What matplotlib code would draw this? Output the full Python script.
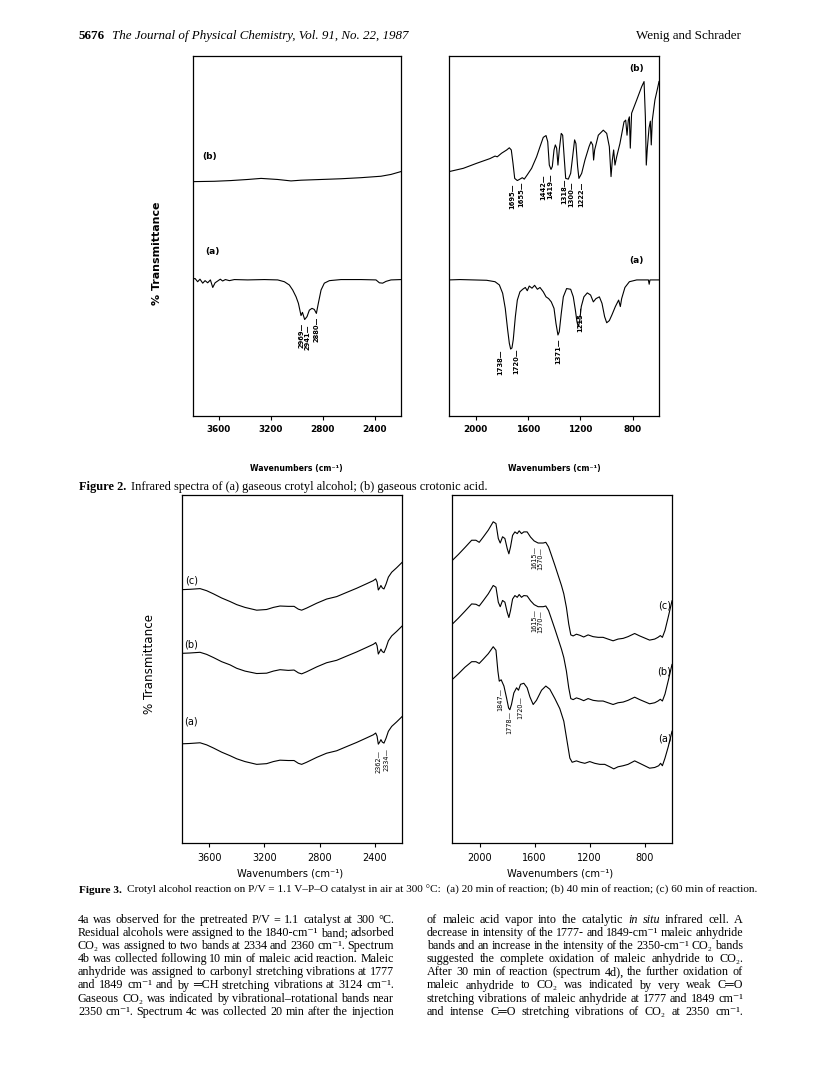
import matplotlib
matplotlib.use('Agg')
import matplotlib.pyplot as plt

# ---------------- data ----------------
# Figure 2, left panel (3800-2200 cm-1)
f2_hi_wn = [3800, 3782, 3762, 3744, 3723, 3705, 3685, 3664, 3646, 3628,
            3608, 3588, 3570, 3549, 3518, 3480, 3378, 3250, 3147, 3096,
            3058, 3032, 3006, 2988, 2968, 2957, 2940, 2922, 2904, 2884,
            2866, 2850, 2835, 2814, 2789, 2750, 2661, 2507, 2392, 2366,
            2341, 2315, 2277, 2200]
f2_hi_a = [38.0, 38.2, 37.3, 38.0, 36.9, 37.6, 37.0, 37.8, 35.7, 37.0,
           37.5, 38.0, 37.5, 37.9, 37.6, 37.9, 37.8, 37.9, 37.8, 37.3,
           36.4, 35.0, 33.1, 31.3, 27.9, 28.8, 26.8, 27.6, 29.4, 29.9,
           29.6, 28.5, 31.3, 35.0, 36.9, 37.6, 37.9, 37.9, 37.8, 37.0,
           36.9, 37.4, 37.8, 37.9]
f2_hi_b_wn = [3800, 3634, 3506, 3378, 3275, 3147, 3045, 2968, 2814, 2661,
              2507, 2354, 2277, 2200]
f2_hi_b = [65.1, 65.2, 65.4, 65.7, 66.0, 65.7, 65.3, 65.5, 65.7, 65.9,
           66.2, 66.6, 67.1, 67.9]

# Figure 2, right panel (2200-600 cm-1)
f2_lo_b_wn = [2200, 2093, 1991, 1890, 1851, 1834, 1801, 1762, 1742, 1727,
              1714, 1701, 1681, 1661, 1643, 1628, 1605, 1572, 1534, 1508,
              1483, 1462, 1449, 1437, 1424, 1414, 1401, 1391, 1381, 1371,
              1361, 1346, 1335, 1322, 1312, 1292, 1274, 1259, 1244, 1234,
              1221, 1211, 1190, 1165, 1134, 1119, 1106, 1099, 1091, 1063,
              1025, 999, 979, 966, 956, 946, 936, 923, 898, 867,
              854, 844, 834, 826, 819, 809, 770, 732, 714, 704,
              697, 689, 676, 666, 659, 651, 631, 613, 600]
f2_lo_b = [67.9, 68.8, 70.2, 71.5, 72.2, 72.0, 73.0, 73.9, 74.5, 73.9,
           70.2, 66.0, 65.4, 65.8, 66.2, 65.8, 67.0, 68.8, 72.0, 74.8,
           77.4, 77.9, 76.2, 69.7, 68.5, 69.3, 73.9, 75.3, 74.4, 69.7,
           73.9, 78.5, 78.0, 71.1, 66.0, 65.8, 67.4, 72.0, 76.7, 75.7,
           69.3, 66.0, 67.4, 71.1, 74.8, 76.2, 75.3, 71.1, 73.9, 78.0,
           79.4, 78.5, 74.8, 66.5, 71.1, 73.9, 69.7, 72.0, 75.7, 81.7,
           82.2, 78.0, 82.2, 83.1, 74.4, 84.1, 87.8, 91.5, 92.9, 83.1,
           69.7, 74.4, 80.0, 81.9, 75.3, 82.2, 87.8, 90.7, 92.9]
f2_lo_a_wn = [2200, 2119, 2017, 1915, 1851, 1818, 1793, 1773, 1755, 1742,
              1732, 1722, 1712, 1696, 1681, 1661, 1640, 1620, 1605, 1590,
              1569, 1549, 1528, 1508, 1483, 1462, 1442, 1422, 1401, 1386,
              1371, 1361, 1346, 1330, 1305, 1274, 1254, 1238, 1226, 1216,
              1206, 1193, 1173, 1147, 1122, 1101, 1081, 1055, 1035, 1015,
              999, 979, 959, 933, 908, 895, 885, 860, 826, 770,
              681, 675, 669, 663, 600]
f2_lo_a = [37.8, 37.9, 37.8, 37.7, 37.3, 36.4, 34.1, 29.9, 24.0, 20.2,
           18.6, 18.9, 21.2, 27.6, 32.2, 34.5, 35.2, 35.7, 34.8, 36.1,
           35.5, 36.3, 35.2, 35.7, 34.5, 33.1, 32.6, 31.7, 29.9, 25.7,
           22.5, 23.4, 28.4, 33.1, 35.4, 35.2, 33.1, 29.4, 26.2, 24.8,
           26.2, 30.4, 33.1, 34.2, 33.6, 31.7, 32.6, 33.1, 31.3, 27.6,
           25.9, 26.5, 28.1, 30.4, 32.2, 30.4, 32.6, 35.7, 37.3, 37.8,
           37.8, 36.6, 37.8, 37.8, 37.8]

# Figure 3, left panel (3800-2200 cm-1)
f3_hi_wn = [3800, 3740, 3667, 3619, 3570, 3510, 3450, 3401, 3341, 3256,
            3184, 3135, 3087, 3027, 2985, 2954, 2930, 2894, 2821, 2749,
            2676, 2604, 2531, 2459, 2410, 2393, 2383, 2374, 2364, 2355,
            2345, 2333, 2318, 2301, 2277, 2241, 2200]
f3_hi_c = [72.8, 72.9, 73.1, 72.5, 71.6, 70.4, 69.4, 68.5, 67.7, 66.9,
           67.1, 67.7, 68.1, 68.0, 68.0, 67.2, 66.9, 67.5, 68.9, 70.1,
           70.8, 72.0, 73.2, 74.5, 75.4, 75.9, 75.0, 72.7, 73.3, 74.0,
           73.3, 73.0, 74.4, 76.4, 77.8, 79.1, 80.7]
f3_hi_b = [54.5, 54.6, 54.8, 54.2, 53.3, 52.1, 51.2, 50.2, 49.4, 48.7,
           48.8, 49.4, 49.8, 49.6, 49.7, 48.9, 48.6, 49.2, 50.6, 51.8,
           52.5, 53.7, 54.9, 56.2, 57.1, 57.6, 56.7, 54.3, 55.0, 55.7,
           55.0, 54.7, 56.1, 58.1, 59.5, 60.8, 62.4]
f3_hi_a = [28.5, 28.6, 28.8, 28.2, 27.3, 26.1, 25.1, 24.2, 23.4, 22.6,
           22.8, 23.4, 23.8, 23.7, 23.7, 22.9, 22.6, 23.2, 24.6, 25.8,
           26.5, 27.7, 28.9, 30.2, 31.1, 31.6, 30.7, 28.4, 29.0, 29.7,
           29.0, 28.7, 30.1, 32.1, 33.5, 34.8, 36.4]

# Figure 3, right panel (2200-600 cm-1)
f3_lo_wn = [2200, 2156, 2108, 2059, 2028, 2004, 1975, 1938, 1902, 1882,
            1865, 1851, 1834, 1817, 1800, 1788, 1776, 1761, 1744, 1727,
            1713, 1696, 1679, 1655, 1630, 1604, 1575, 1538, 1519, 1499,
            1478, 1453, 1429, 1405, 1388, 1369, 1352, 1337, 1320, 1296,
            1272, 1243, 1211, 1175, 1138, 1102, 1066, 1029, 993, 956,
            920, 872, 835, 799, 763, 726, 702, 685, 670, 651,
            627, 600]
f3_lo_c = [81.2, 82.9, 84.9, 87.0, 87.0, 86.4, 87.9, 89.9, 92.3, 91.8,
           87.5, 86.2, 88.0, 87.5, 84.6, 83.1, 85.1, 88.4, 89.4, 88.9,
           89.7, 88.9, 89.4, 89.4, 87.9, 86.8, 86.2, 86.2, 86.4, 85.1,
           82.7, 79.8, 76.9, 74.0, 71.6, 67.7, 62.9, 59.8, 59.5, 60.0,
           59.7, 59.2, 59.8, 59.3, 59.1, 59.1, 58.6, 58.1, 58.6, 58.8,
           59.3, 60.2, 59.5, 58.9, 58.3, 58.6, 59.1, 59.6, 59.1, 61.1,
           65.0, 69.6]
f3_lo_b = [62.9, 64.6, 66.6, 68.7, 68.6, 68.1, 69.6, 71.6, 74.0, 73.5,
           69.2, 67.9, 69.7, 69.2, 66.3, 64.8, 66.8, 70.1, 71.1, 70.6,
           71.4, 70.6, 71.1, 71.0, 69.6, 68.5, 67.9, 67.9, 68.1, 66.8,
           64.4, 61.5, 58.6, 55.7, 53.3, 49.4, 44.6, 41.5, 41.2, 41.7,
           41.4, 40.9, 41.5, 41.0, 40.8, 40.8, 40.3, 39.8, 40.3, 40.5,
           41.0, 41.9, 41.2, 40.6, 40.0, 40.3, 40.8, 41.3, 40.8, 42.8,
           46.7, 51.3]
f3_lo_a_wn = [2200, 2156, 2108, 2059, 2028, 2004, 1975, 1938, 1902, 1882,
              1868, 1858, 1844, 1824, 1805, 1790, 1781, 1769, 1752, 1732,
              1718, 1703, 1679, 1655, 1635, 1611, 1587, 1550, 1519, 1490,
              1453, 1417, 1388, 1364, 1344, 1327, 1296, 1267, 1235, 1199,
              1163, 1126, 1090, 1053, 1024, 993, 956, 920, 872, 835,
              799, 763, 726, 697, 683, 670, 651, 627, 600]
f3_lo_a = [47.0, 48.6, 50.5, 52.1, 52.1, 51.6, 52.8, 54.4, 56.4, 55.4,
           49.4, 46.5, 46.9, 45.1, 41.7, 38.8, 38.3, 39.8, 43.1, 44.6,
           43.9, 45.6, 45.9, 44.6, 42.0, 39.8, 41.0, 43.9, 45.1, 44.2,
           41.5, 38.6, 35.0, 29.2, 24.4, 23.2, 23.6, 23.2, 22.9, 23.4,
           22.9, 22.6, 22.6, 21.9, 21.3, 21.9, 22.2, 22.6, 23.6, 22.9,
           22.2, 21.5, 21.7, 22.2, 22.9, 22.2, 24.4, 27.7, 32.1]

hi_ticks = [3600, 3200, 2800, 2400]
lo_ticks = [2000, 1600, 1200, 800]

# peak annotations: (label, x, top of label)
f2_hi_peaks = [('2969', 2963, 26.0), ('2941', 2916, 25.5), ('2880', 2846, 27.5)]
f2_lo_b_peaks = [('1695', 1717, 64.6), ('1655', 1648, 65.1), ('1442', 1483, 67.0),
                 ('1419', 1427, 67.4), ('1318', 1325, 66.0), ('1300', 1266, 65.1),
                 ('1222', 1190, 65.1)]
f2_lo_a_peaks = [('1738', 1808, 18.5), ('1720', 1691, 18.9), ('1371', 1368, 21.6),
                 ('1215', 1198, 30.4)]
f3_hi_peaks = [('2362', 2374, 26.8), ('2334', 2316, 27.3)]
f3_lo_peaks = [('1615', 1606, 85.3), ('1570', 1561, 85.0),
               ('1615', 1606, 67.3), ('1570', 1561, 67.0),
               ('1847', 1853, 44.6), ('1778', 1788, 37.8), ('1720', 1706, 42.2)]

left_col = [
    "4a was observed for the pretreated P/V = 1.1 catalyst at 300 °C.",
    "Residual alcohols were assigned to the 1840-cm⁻¹ band; adsorbed",
    "CO₂ was assigned to two bands at 2334 and 2360 cm⁻¹. Spectrum",
    "4b was collected following 10 min of maleic acid reaction. Maleic",
    "anhydride was assigned to carbonyl stretching vibrations at 1777",
    "and 1849 cm⁻¹ and by ═CH stretching vibrations at 3124 cm⁻¹.",
    "Gaseous CO₂ was indicated by vibrational–rotational bands near",
    "2350 cm⁻¹. Spectrum 4c was collected 20 min after the injection",
]
right_col = [
    "of maleic acid vapor into the catalytic *in *situ infrared cell. A",
    "decrease in intensity of the 1777- and 1849-cm⁻¹ maleic anhydride",
    "bands and an increase in the intensity of the 2350-cm⁻¹ CO₂ bands",
    "suggested the complete oxidation of maleic anhydride to CO₂.",
    "After 30 min of reaction (spectrum 4d), the further oxidation of",
    "maleic anhydride to CO₂ was indicated by very weak C═O",
    "stretching vibrations of maleic anhydride at 1777 and 1849 cm⁻¹",
    "and intense C═O stretching vibrations of CO₂ at 2350 cm⁻¹.",
]

# ---------------- drawing ----------------
W, H = 820, 1068
SERIF = ['Liberation Serif', 'DejaVu Serif', 'DejaVu Sans']
SANS = ['DejaVu Sans']

fig = plt.figure(figsize=(8.2, 10.68), dpi=100)
fig.patch.set_facecolor('white')
renderer = fig.canvas.get_renderer()


def fx(x):
    return x / W


def fy(y):
    return 1 - y / H


def width_of(t):
    return t.get_window_extent(renderer).width


def place(x, y, s, span=None, size=8, **kw):
    """texto em coordenadas de pixel; span ajusta o tamanho da fonte"""
    t = fig.text(fx(x), fy(y), s, fontsize=size, **kw)
    if span:
        bb = t.get_window_extent(renderer)
        cur = bb.height if kw.get('rotation') else bb.width
        t.set_fontsize(size * span / cur)
    return t


def panel(x0, y0, x1, y1, xlim, ticks, bold, pad):
    ax = fig.add_axes([fx(x0), fy(y1), (x1 - x0) / W, (y1 - y0) / H])
    ax.set_xlim(*xlim)
    ax.set_ylim(0, 100)
    ax.set_xticks(ticks)
    ax.set_yticks([])
    ax.tick_params(axis='x', direction='out', length=3, width=0.8, pad=pad,
                   labelsize=6.4 if bold else 7.0)
    for lab in ax.get_xticklabels():
        lab.set_fontweight('bold' if bold else 'normal')
        lab.set_family(SANS)
    for s in ax.spines.values():
        s.set_linewidth(0.9)
    return ax


def trace(ax, wn, T):
    ax.plot(wn, T, color='black', lw=0.8, solid_joinstyle='round')


def peaks(ax, items, size, weight):
    for txt, x, y in items:
        ax.text(x, y, txt + '—', rotation=90, ha='center', va='top',
                fontsize=size, fontweight=weight, family=SANS)


def caption(x0, x1, y, head, body):
    tb = place(x0, y, head, size=8, weight='bold', family=SERIF, va='baseline')
    tc = place(x0, y, body, size=8, family=SERIF, va='baseline')
    size = 8 * (x1 - x0) / (width_of(tb) + 5 + width_of(tc))
    tb.set_fontsize(size)
    tc.set_fontsize(size)
    tc.set_x(fx(x0 + width_of(tb) + 5))


# header
t = place(79, 39, '5676', size=9.4, weight='bold', family=SERIF, va='baseline')
place(79 + width_of(t) + 7, 39, 'The Journal of Physical Chemistry, Vol. 91, No. 22, 1987',
      size=9.4, style='italic', family=SERIF, va='baseline')
place(741, 39, 'Wenig and Schrader', size=9.4, family=SERIF, va='baseline', ha='right')

# Figure 2
ax = panel(192.7, 56, 401, 416, (3800, 2200), hi_ticks, True, 3.5)
trace(ax, f2_hi_b_wn, f2_hi_b)
trace(ax, f2_hi_wn, f2_hi_a)
peaks(ax, f2_hi_peaks, 4.9, 'bold')
ax.text(3667, 72, '(b)', ha='center', va='center', fontsize=6.5, fontweight='bold', family=SANS)
ax.text(3650, 45.6, '(a)', ha='center', va='center', fontsize=6.5, fontweight='bold', family=SANS)

ax = panel(449.3, 56, 659, 416, (2200, 600), lo_ticks, True, 3.5)
trace(ax, f2_lo_b_wn, f2_lo_b)
trace(ax, f2_lo_a_wn, f2_lo_a)
peaks(ax, f2_lo_b_peaks, 4.9, 'bold')
peaks(ax, f2_lo_a_peaks, 4.9, 'bold')
ax.text(770, 96.5, '(b)', ha='center', va='center', fontsize=6.5, fontweight='bold', family=SANS)
ax.text(770, 43.3, '(a)', ha='center', va='center', fontsize=6.5, fontweight='bold', family=SANS)

place(157, 253, '% Transmittance', span=104, size=7, rotation=90, weight='bold',
      family=SANS, ha='center', va='center')
place(296, 468, 'Wavenumbers (cm⁻¹)', span=92, size=7, weight='bold', family=SANS,
      ha='center', va='center')
place(554, 468, 'Wavenumbers (cm⁻¹)', span=92, size=7, weight='bold', family=SANS,
      ha='center', va='center')

caption(79, 488, 490, 'Figure 2.',
        'Infrared spectra of (a) gaseous crotyl alcohol; (b) gaseous crotonic acid.')

# Figure 3
ax = panel(181.7, 495, 402.3, 843, (3800, 2200), hi_ticks, False, 4.5)
trace(ax, f3_hi_wn, f3_hi_c)
trace(ax, f3_hi_wn, f3_hi_b)
trace(ax, f3_hi_wn, f3_hi_a)
peaks(ax, f3_hi_peaks, 4.7, 'normal')
for lab, yy in [('(c)', 75.4), ('(b)', 56.9), ('(a)', 34.8)]:
    ax.text(3730, yy, lab, ha='center', va='center', fontsize=7, family=SANS)

ax = panel(452.3, 495, 672, 843, (2200, 600), lo_ticks, False, 4.5)
trace(ax, f3_lo_wn, f3_lo_c)
trace(ax, f3_lo_wn, f3_lo_b)
trace(ax, f3_lo_a_wn, f3_lo_a)
peaks(ax, f3_lo_peaks, 4.7, 'normal')
for lab, yy in [('(c)', 68.2), ('(b)', 49.4), ('(a)', 30.1)]:
    ax.text(655, yy, lab, ha='center', va='center', fontsize=7, family=SANS)

place(150, 664, '% Transmittance', span=100, size=7, rotation=90,
      family=SANS, ha='center', va='center')
place(290, 873, 'Wavenumbers (cm⁻¹)', span=106, size=7, family=SANS,
      ha='center', va='center')
place(560, 873, 'Wavenumbers (cm⁻¹)', span=106, size=7, family=SANS,
      ha='center', va='center')

caption(79, 752, 893, 'Figure 3.',
        'Crotyl alcohol reaction on P/V = 1.1 V–P–O catalyst in air at 300 °C:  '
        '(a) 20 min of reaction; (b) 40 min of reaction; (c) 60 min of reaction.')

# body text, justified
COLW = 316
BODY_SIZE = 8.7
MIN_GAP = 2.4


def justified(line, x0, y, size):
    words = line.split()
    texts = []
    for w in words:
        style = 'normal'
        if w.startswith('*'):
            w, style = w[1:], 'italic'
        texts.append(fig.text(0, fy(y), w, fontsize=size, family=SERIF,
                              style=style, va='baseline', ha='left'))
    widths = [width_of(t) for t in texts]
    need = sum(widths) + MIN_GAP * (len(texts) - 1)
    if need > COLW:
        # linha muito longa: reduz a fonte so nesta linha
        k = (COLW - MIN_GAP * (len(texts) - 1)) / sum(widths)
        for t in texts:
            t.set_fontsize(size * k)
        widths = [width_of(t) for t in texts]
    gap = (COLW - sum(widths)) / (len(texts) - 1)
    x = x0
    for t, wd in zip(texts, widths):
        t.set_x(fx(x))
        x += wd + gap


for i, line in enumerate(left_col):
    justified(line, 78, 923 + 13.1 * i, BODY_SIZE)
for i, line in enumerate(right_col):
    justified(line, 427, 923 + 13.1 * i, BODY_SIZE)

fig.savefig('out.png', dpi=100)
